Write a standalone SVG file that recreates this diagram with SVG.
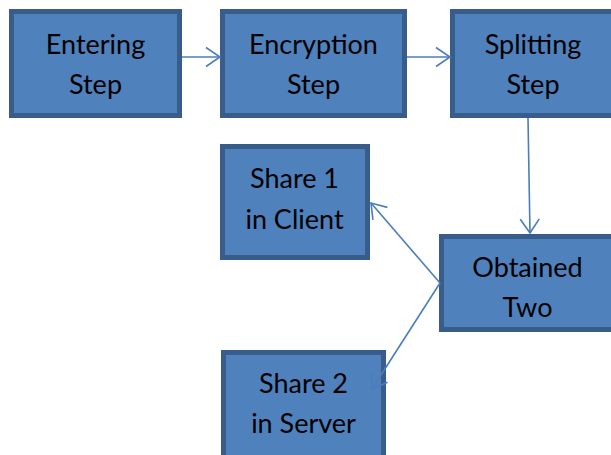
<svg xmlns="http://www.w3.org/2000/svg" width="611" height="455" viewBox="0 0 611 455">
  <style>
    .box { fill: #4f81bd; stroke: #385d8a; stroke-width: 5; }
    .lbl { font-family: Lato, "Open Sans", "Liberation Sans", sans-serif; font-size: 27px; fill: #000; text-anchor: middle; }
    .edge { fill: none; stroke: #4a7ebb; stroke-width: 1.6; marker-end: url(#arr); }
  </style>
  <defs>
    <marker id="arr" markerUnits="userSpaceOnUse" viewBox="-16 -12 18 24" refX="0" refY="0" markerWidth="18" markerHeight="24" orient="auto">
      <path d="M-14,-9.5 L0,0 L-14,9.5" fill="none" stroke="#4a7ebb" stroke-width="1.6"/>
    </marker>
  </defs>
  <rect width="611" height="455" fill="#ffffff"/>

  <g id="entering">
    <rect class="box" x="11.5" y="11.5" width="168" height="104"/>
    <text class="lbl" x="95.5" y="54">Entering</text>
    <text class="lbl" x="95.5" y="94">Step</text>
  </g>
  <g id="encryption">
    <rect class="box" x="222.5" y="11.5" width="182" height="104"/>
    <text class="lbl" x="313.5" y="54">Encryption</text>
    <text class="lbl" x="313.5" y="94">Step</text>
  </g>
  <g id="splitting">
    <rect class="box" x="452.5" y="11.5" width="166" height="104"/>
    <text class="lbl" x="533" y="54">Splitting</text>
    <text class="lbl" x="533" y="94">Step</text>
  </g>
  <g id="share1">
    <rect class="box" x="222.5" y="146.5" width="145" height="111"/>
    <text class="lbl" x="294.5" y="188">Share 1</text>
    <text class="lbl" x="294.5" y="229">in Client</text>
  </g>
  <g id="obtained">
    <rect class="box" x="441.5" y="236.5" width="178" height="93"/>
    <text class="lbl" x="527.5" y="277">Obtained</text>
    <text class="lbl" x="527.5" y="317">Two</text>
  </g>
  <g id="share2">
    <rect class="box" x="223.5" y="352.5" width="160" height="110"/>
    <text class="lbl" x="303.5" y="393">Share 2</text>
    <text class="lbl" x="303.5" y="433">in Server</text>
  </g>

  <g id="connectors">
    <line class="edge" x1="182" y1="57" x2="220" y2="57"/>
    <line class="edge" x1="407" y1="57" x2="450" y2="57"/>
    <line class="edge" x1="528" y1="118" x2="530" y2="233"/>
    <line class="edge" x1="440" y1="283" x2="371" y2="203"/>
    <line class="edge" x1="440" y1="283" x2="372" y2="389"/>
  </g>
</svg>
